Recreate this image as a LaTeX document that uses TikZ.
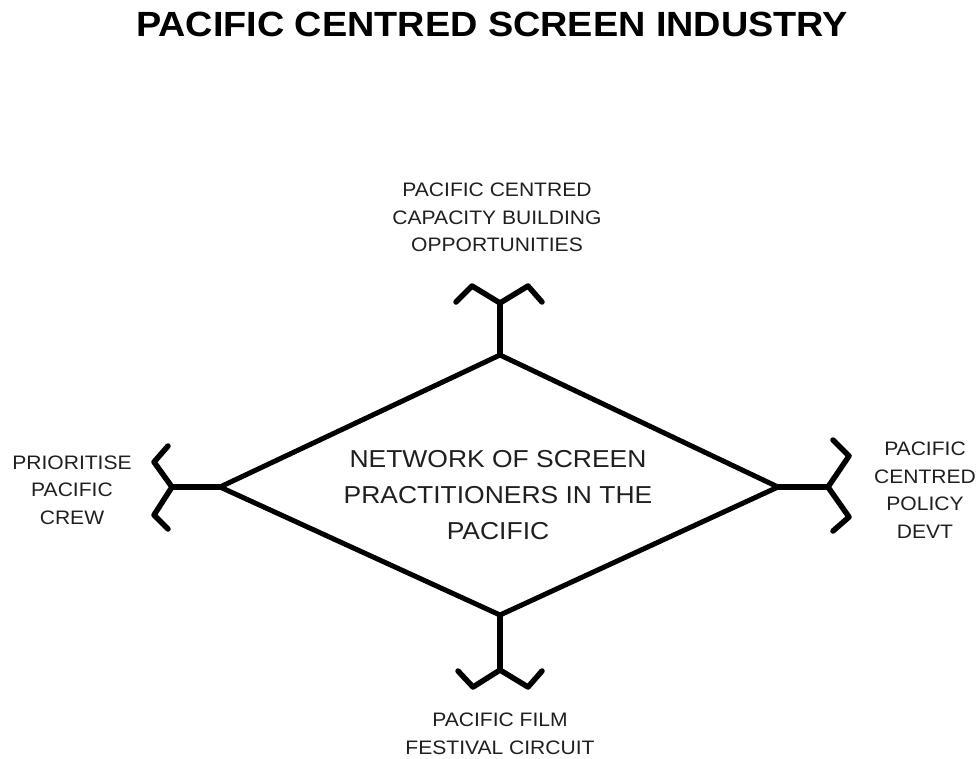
\documentclass[tikz,border=0pt]{standalone}
\usepackage{fontspec}
\setmainfont[FakeStretch=1.08]{Liberation Sans}
\begin{document}
\begin{tikzpicture}[x=1pt,y=-1pt,
  edge/.style={line width=5pt,line join=miter,line cap=butt},
  fork/.style={line width=5.5pt,line join=round,line cap=round},
  stem/.style={line width=6.5pt,line cap=butt},
  lbl/.style={align=center,font=\fontsize{19.5}{27.5}\selectfont,text=black!88,inner sep=0pt},
  ctr/.style={align=center,font=\fontsize{24.5}{36}\selectfont,text=black!88,inner sep=0pt}]
\useasboundingbox (0,0) rectangle (977,758);
% title
\node[font=\bfseries\fontsize{35}{40}\selectfont,inner sep=0pt] (title) at (492,24.5) {PACIFIC CENTRED SCREEN INDUSTRY};
% diamond corners
\coordinate (T) at (500,355);
\coordinate (B) at (500,615);
\coordinate (L) at (220,487);
\coordinate (R) at (778,487);
\draw[edge] (T) -- (R) -- (B) -- (L) -- cycle;
\node[ctr] (net) at (498,495) {NETWORK OF SCREEN\\PRACTITIONERS IN THE\\PACIFIC};
% junctions
\coordinate (Tj) at (500,303);
\coordinate (Bj) at (500,670);
\coordinate (Lj) at (172,487);
\coordinate (Rj) at (828,487);
\draw[stem] (T) -- (Tj);
\draw[stem] (B) -- (Bj);
\draw[stem] (L) -- (Lj);
\draw[stem] (R) -- (Rj);
% forks
\draw[fork] (456,302) -- (472,286) -- (Tj) -- (528,286) -- (542,302);
\draw[fork] (458,671) -- (473,687) -- (Bj) -- (528,687) -- (542,671);
\draw[fork] (168,446) -- (154,462) -- (Lj) -- (154,515) -- (168,529);
\draw[fork] (833,440) -- (849,456) -- (Rj) -- (849,517) -- (833,531);
% labels
\node[lbl] (top) at (497,217.5) {PACIFIC CENTRED\\CAPACITY BUILDING\\OPPORTUNITIES};
\node[lbl] (left) at (72,490) {PRIORITISE\\PACIFIC\\CREW};
\node[lbl] (right) at (925,490) {PACIFIC\\CENTRED\\POLICY\\DEVT};
\node[lbl] (bottom) at (500,734) {PACIFIC FILM\\FESTIVAL CIRCUIT};
\end{tikzpicture}
\end{document}
